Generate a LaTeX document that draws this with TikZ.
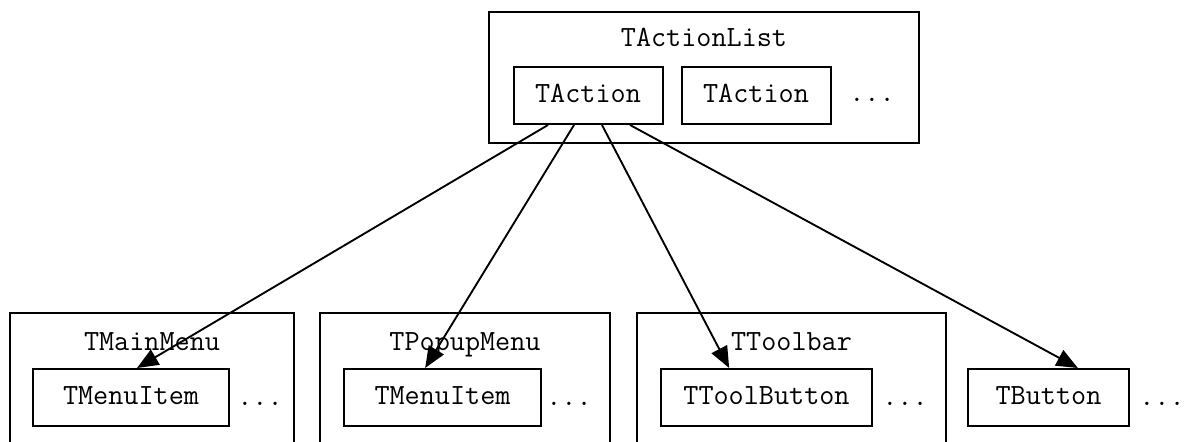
\documentclass[tikz,border=0pt]{standalone}
\usepackage{fontspec}
\usetikzlibrary{arrows.meta}
\tikzset{
  every node/.style={font=\ttfamily\fontsize{22}{26}\selectfont, inner sep=0pt},
  cluster/.style={draw, line width=1.5pt, minimum height=127.5pt},
  item/.style={draw, line width=1.5pt, minimum height=42.75pt, text height=13.4pt, text depth=3pt},
  caption/.style={anchor=base},
  dots/.style={anchor=base},
  link/.style={line width=1.4pt, -{Triangle[length=16pt, width=13pt]}},
}
\begin{document}
\begin{tikzpicture}[x=0.75pt, y=-0.75pt]
  \useasboundingbox (0,0) rectangle (1188,442);
  \clip (0,0) rectangle (1188,442);
  \fill[white] (0,0) rectangle (1188,442);

  % action list
  \node[draw, line width=1.5pt, minimum width=322.5pt, minimum height=98.25pt] (list) at (704,77.5) {};
  \node[caption] (listlbl) at (704,47) {TActionList};
  \node[item, minimum width=111.75pt] (act1) at (588,95.5) {TAction};
  \node[item, minimum width=111.75pt] (act2) at (756,95.5) {TAction};
  \node[dots] (actdots) at (872,102) {...};

  % clients
  \node[cluster, minimum width=213pt] (mainmenu) at (152,398) {};
  \node[caption] (mainlbl) at (152,350) {TMainMenu};
  \node[item, minimum width=147pt] (mi1) at (131,397.5) {TMenuItem};
  \node[dots] (mi1dots) at (260,405) {...};

  \node[cluster, minimum width=217.5pt] (popup) at (465,398) {};
  \node[caption] (popuplbl) at (465,350) {TPopupMenu};
  \node[item, minimum width=147.75pt] (mi2) at (442.5,397.5) {TMenuItem};
  \node[dots] (mi2dots) at (569,405) {...};

  \node[cluster, minimum width=231.75pt] (toolbar) at (791.5,398) {};
  \node[caption] (toolbarlbl) at (791.5,350) {TToolbar};
  \node[item, minimum width=158.25pt] (tb) at (766.5,397.5) {TToolButton};
  \node[dots] (tbdots) at (905,405) {...};

  \node[item, minimum width=120.75pt] (btn) at (1048.5,397.5) {TButton};
  \node[dots] (btndots) at (1162,405) {...};

  % links from the first action
  \draw[link] ([xshift=-30pt]act1.south) -- ([xshift=4.5pt]mi1.north);
  \draw[link] ([xshift=-10.5pt]act1.south) -- ([xshift=-13pt]mi2.north);
  \draw[link] ([xshift=10.5pt]act1.south) -- ([xshift=-28pt]tb.north);
  \draw[link] ([xshift=31.5pt]act1.south) -- ([xshift=22pt]btn.north);
\end{tikzpicture}
\end{document}
